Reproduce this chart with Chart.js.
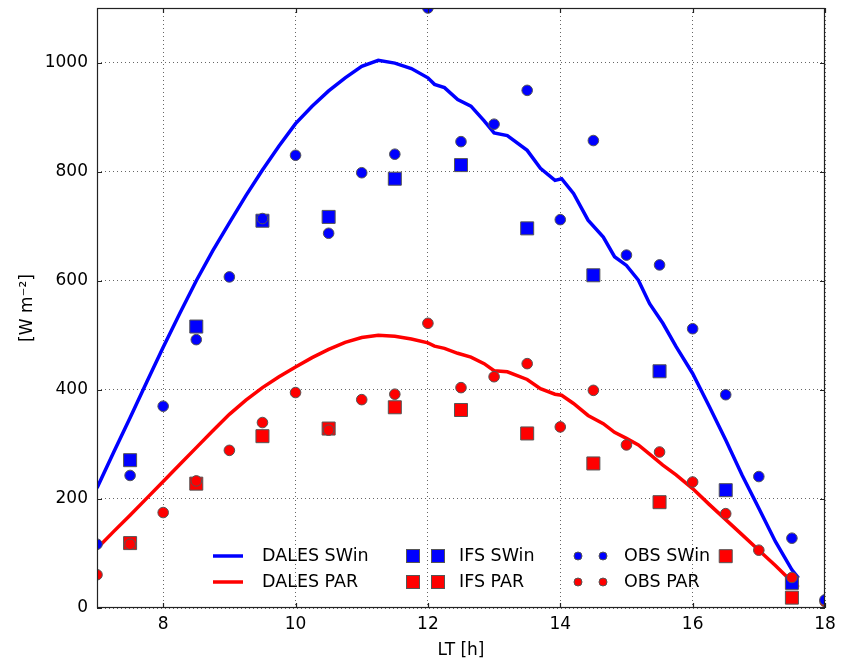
<!DOCTYPE html>
<html>
<head>
<meta charset="utf-8">
<script src="https://cdn.jsdelivr.net/npm/chart.js@4.4.0/dist/chart.umd.min.js"></script>
<style>
  html, body { margin: 0; padding: 0; background: #fff; }
  #wrap { width: 846px; height: 665px; }
</style>
</head>
<body>
<div id="wrap"><canvas id="chart" width="846" height="665"></canvas></div>
<script>
// DALES model (hours LT, W m-2)
const dalesTime = [7.0, 7.25, 7.5, 7.75, 8.0, 8.25, 8.5, 8.75, 9.0, 9.25, 9.5, 9.75, 10.0, 10.25, 10.5, 10.75,
  11.0, 11.25, 11.5, 11.75, 12.0, 12.1, 12.25, 12.45, 12.65, 12.85, 13.0, 13.2, 13.5, 13.7, 13.92, 14.02,
  14.2, 14.42, 14.65, 14.82, 15.0, 15.18, 15.35, 15.55, 15.75, 16.0, 16.25, 16.5, 16.75, 17.0, 17.25, 17.5, 17.6];
const dalesSwin = [220, 285, 349, 414, 478, 540, 600, 655, 706, 756, 803, 847, 888, 920, 948, 972,
  993, 1004, 999, 989, 972, 960, 954, 932, 920, 893, 871, 866, 839, 806, 784, 787,
  760, 711, 680, 644, 628, 601, 558, 522, 479, 430, 370, 308, 243, 183, 122, 70, 55];
const dalesPar = [109, 140, 170, 201, 232, 263, 294, 325, 355, 381, 404, 424, 442, 459, 474, 487,
  496, 500, 498, 493, 486, 480, 476, 467, 460, 448, 435, 433, 419, 402, 392, 390,
  375, 353, 338, 322, 311, 299, 282, 262, 244, 219, 190, 162, 134, 106, 78, 48, 38];

// IFS
const ifsTime = [7.5, 8.5, 9.5, 10.5, 11.5, 12.5, 13.5, 14.5, 15.5, 16.5, 17.5];
const ifsSwin = [271, 516, 710, 717, 787, 812, 696, 610, 434, 216, 46];
const ifsPar = [119, 228, 315, 329, 368, 363, 320, 265, 194, 95, 19];

// observations
const obsTime = [7.0, 7.5, 8.0, 8.5, 9.0, 9.5, 10.0, 10.5, 11.0, 11.5, 12.0, 12.5,
  13.0, 13.5, 14.0, 14.5, 15.0, 15.5, 16.0, 16.5, 17.0, 17.5, 18.0];
const obsSwin = [117, 243, 370, 492, 607, 714, 830, 687, 798, 832, 1100, 855,
  887, 949, 712, 857, 647, 629, 512, 391, 241, 128, 15];
const obsPar = [61, 117, 175, 233, 289, 340, 395, 326, 382, 392, 522, 404,
  424, 448, 332, 399, 299, 286, 231, 173, 106, 56, 12];

const xTicks = [8, 10, 12, 14, 16, 18];
const yTicks = [0, 200, 400, 600, 800, 1000];

const FONT = 'DejaVu Sans';
const BLUE = '#0000ff';
const RED = '#ff0000';
const EDGE = '#555555';

function pairs(xs, ys) {
  return xs.map((x, i) => ({ x: x, y: ys[i] }));
}

// frame, inward ticks and the legend inside the axes
const framePlugin = {
  id: 'framePlugin',
  afterDraw(chart) {
    const ctx = chart.ctx;
    const a = chart.chartArea;
    const xs = chart.scales.x;
    const ys = chart.scales.y;
    ctx.save();
    ctx.strokeStyle = '#222';
    ctx.lineWidth = 1.2;
    ctx.strokeRect(a.left + 0.5, a.top + 0.5, a.right - a.left - 1, a.bottom - a.top - 1);

    ctx.beginPath();
    xTicks.forEach(v => {
      const px = Math.round(xs.getPixelForValue(v)) + 0.5;
      ctx.moveTo(px, a.bottom); ctx.lineTo(px, a.bottom - 5);
      ctx.moveTo(px, a.top); ctx.lineTo(px, a.top + 5);
    });
    yTicks.forEach(v => {
      const py = Math.round(ys.getPixelForValue(v)) + 0.5;
      ctx.moveTo(a.left, py); ctx.lineTo(a.left + 5, py);
      ctx.moveTo(a.right, py); ctx.lineTo(a.right - 5, py);
    });
    ctx.stroke();

    // legend: 3 columns x 2 rows
    const rowY = [a.bottom - 52, a.bottom - 26];
    const col1 = a.left + 116, col2 = a.left + 316, col3 = a.left + 481;
    ctx.font = '17.5px "' + FONT + '"';
    ctx.textBaseline = 'middle';
    const colors = [BLUE, RED];
    const names = [['DALES SWin', 'DALES PAR'], ['IFS SWin', 'IFS PAR'], ['OBS SWin', 'OBS PAR']];
    for (let r = 0; r < 2; r++) {
      const yy = rowY[r];
      ctx.strokeStyle = colors[r];
      ctx.lineWidth = 3.5;
      ctx.beginPath();
      ctx.moveTo(col1, yy); ctx.lineTo(col1 + 30, yy);
      ctx.stroke();
      ctx.fillStyle = '#000';
      ctx.fillText(names[0][r], col1 + 49, yy);

      ctx.lineWidth = 1;
      ctx.strokeStyle = EDGE;
      [col2, col2 + 25].forEach(cx => {
        ctx.fillStyle = colors[r];
        ctx.fillRect(cx - 6.5, yy - 6.5, 13, 13);
        ctx.strokeRect(cx - 6.5, yy - 6.5, 13, 13);
      });
      ctx.fillStyle = '#000';
      ctx.fillText(names[1][r], col2 + 46, yy);

      [col3, col3 + 25].forEach(cx => {
        ctx.fillStyle = colors[r];
        ctx.beginPath();
        ctx.arc(cx, yy, 4, 0, Math.PI * 2);
        ctx.fill();
        ctx.stroke();
      });
      ctx.fillStyle = '#000';
      ctx.fillText(names[2][r], col3 + 46, yy);
    }
    ctx.restore();
  }
};

const lineStyle = {
  showLine: true,
  pointRadius: 0,
  borderWidth: 3.5,
  tension: 0,
  fill: false,
  clip: 0
};

const gridStyle = { color: 'rgba(0,0,0,0.6)', lineWidth: 1, drawTicks: false };

const chart = new Chart(document.getElementById('chart'), {
  type: 'scatter',
  data: {
    datasets: [
      { label: 'OBS SWin', data: pairs(obsTime, obsSwin), pointStyle: 'circle', pointRadius: 5.3,
        backgroundColor: BLUE, borderColor: EDGE, borderWidth: 1, clip: 0, order: 0 },
      { label: 'OBS PAR', data: pairs(obsTime, obsPar), pointStyle: 'circle', pointRadius: 5.3,
        backgroundColor: RED, borderColor: EDGE, borderWidth: 1, clip: 0, order: 1 },
      { label: 'IFS SWin', data: pairs(ifsTime, ifsSwin), pointStyle: 'rect', pointRadius: 9.2,
        backgroundColor: BLUE, borderColor: EDGE, borderWidth: 1, clip: 0, order: 2 },
      { label: 'IFS PAR', data: pairs(ifsTime, ifsPar), pointStyle: 'rect', pointRadius: 9.2,
        backgroundColor: RED, borderColor: EDGE, borderWidth: 1, clip: 0, order: 3 },
      Object.assign({ label: 'DALES SWin', data: pairs(dalesTime, dalesSwin), borderColor: BLUE, order: 4 }, lineStyle),
      Object.assign({ label: 'DALES PAR', data: pairs(dalesTime, dalesPar), borderColor: RED, order: 5 }, lineStyle)
    ]
  },
  options: {
    responsive: false,
    animation: false,
    layout: { autoPadding: false, padding: { left: 0, right: 21, top: 8, bottom: 0 } },
    plugins: {
      legend: { display: false },
      tooltip: { enabled: false }
    },
    scales: {
      x: {
        type: 'linear',
        min: 7,
        max: 18,
        afterBuildTicks(scale) { scale.ticks = xTicks.map(v => ({ value: v })); },
        afterFit(scale) {
          scale.height = 57;
          scale.paddingLeft = 0;
          scale.paddingRight = 0;
        },
        grid: gridStyle,
        border: { display: false, dash: [1, 3] },
        ticks: { color: '#000', font: { family: FONT, size: 17 }, padding: 6, maxRotation: 0,
          callback: v => String(v) },
        title: { display: true, text: 'LT [h]', color: '#000', font: { family: FONT, size: 17 },
          padding: { top: 0, bottom: 4 } }
      },
      y: {
        type: 'linear',
        min: 0,
        max: 1100,
        afterBuildTicks(scale) { scale.ticks = yTicks.map(v => ({ value: v })); },
        afterFit(scale) {
          scale.width = 97;
          scale.paddingTop = 0;
          scale.paddingBottom = 0;
        },
        grid: gridStyle,
        border: { display: false, dash: [1, 3] },
        ticks: { color: '#000', font: { family: FONT, size: 17 }, padding: 9,
          callback: v => String(v) },
        title: { display: true, text: '[W m⁻²]', color: '#000', font: { family: FONT, size: 17 },
          padding: { top: 17, bottom: 0 } }
      }
    }
  },
  plugins: [framePlugin]
});
</script>
</body>
</html>
